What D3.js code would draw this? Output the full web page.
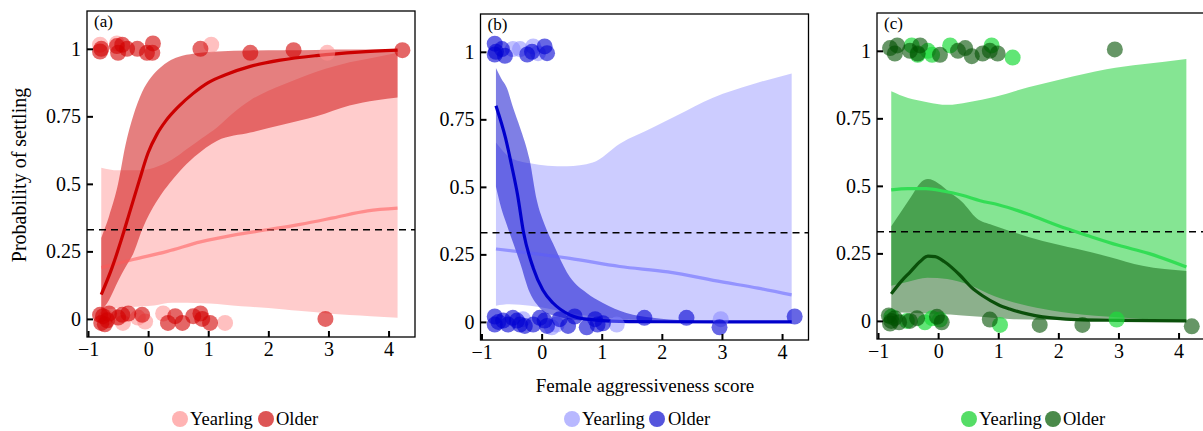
<!DOCTYPE html>
<html><head><meta charset="utf-8">
<script src="https://cdn.jsdelivr.net/npm/d3@7"></script>
<style>
body{margin:0;background:#fff}
svg{display:block}
text{font-family:"Liberation Serif","Times New Roman",serif;fill:#000}
</style>
</head><body>
<svg id="chart" width="1203" height="431"></svg>
<script>
// ---------- labels / ticks ----------
const xTicks = [-1, 0, 1, 2, 3, 4];
const xTickLabels = ["−1", "0", "1", "2", "3", "4"];
const yTicks = [0, 0.25, 0.5, 0.75, 1];
const yTickLabels = ["0", "0.25", "0.5", "0.75", "1"];
const panelLabels = ["(a)", "(b)", "(c)"];
const groups = ["Yearling", "Older"];
const xTitle = "Female aggressiveness score";
const yTitle = "Probability of settling";
const threshold = 0.33;

// ---------- panel (a) ----------
const aYearBand = [[-0.78,.03,.56],[-0.5,.04,.55],[-0.2,.045,.55],[0.1,.05,.56],[0.4,.06,.59],[0.65,.06,.63],[0.9,.058,.67],[1.15,.055,.71],[1.4,.05,.76],[1.7,.045,.81],[2.0,.04,.845],[2.27,.035,.87],[2.5,.03,.89],[2.8,.025,.915],[3.1,.018,.935],[3.35,.014,.95],[3.7,.01,.965],[4.15,.004,.985]];
const aOldBand = [[-0.78,.03,.30],[-0.65,.07,.38],[-0.5,.14,.50],[-0.38,.19,.64],[-0.25,.24,.75],[-0.1,.33,.84],[0.05,.40,.895],[0.2,.455,.93],[0.35,.50,.955],[0.5,.54,.97],[0.77,.60,.983],[1.15,.66,.99],[1.7,.69,.994],[2.25,.72,.995],[2.8,.75,.996],[3.35,.79,.997],[3.8,.81,.997],[4.15,.82,.997]];
const aYearLine = [[-0.78,.19],[-0.25,.22],[0.32,.25],[0.87,.285],[1.42,.31],[1.98,.33],[2.53,.35],[3.08,.374],[3.65,.40],[4.15,.41]];
const aOldLine = [[-0.78,.09],[-0.6,.19],[-0.45,.29],[-0.3,.40],[-0.15,.51],[0,.615],[0.15,.685],[0.3,.735],[0.5,.785],[0.75,.835],[1,.875],[1.3,.905],[1.7,.935],[2.2,.958],[2.8,.975],[3.5,.988],[4.15,.995]];
const aYearPts = [[-0.8,1.015],[-0.52,1.02],[1.05,1.015],[2.98,.985],[-0.7,.005],[-0.42,-.015],[-0.17,.005],[-0.05,-.01],[0.25,.02],[1.28,-.015]];
const aOldPts = [[-0.8,.99],[-0.78,1.0],[-0.52,1.01],[-0.5,.985],[-0.43,1.015],[-0.35,1.0],[-0.18,1.0],[-0.02,.985],[0.08,1.02],[0.07,.985],[0.87,1.0],[1.7,.985],[2.42,.995],[4.23,.995],
  [-0.8,.015],[-0.78,-.015],[-0.75,.01],[-0.72,-.02],[-0.68,-.005],[-0.65,.02],[-0.5,.005],[-0.43,.015],[-0.33,.02],[-0.1,.015],[0.33,-.015],[0.45,.01],[0.57,-.015],[0.75,.01],[0.87,.02],[0.9,0],[1.03,-.015],[2.95,0]];

// ---------- panel (b) ----------
const bYearBand = [[-0.76,.06,.664],[-0.53,.065,.61],[-0.19,.06,.587],[0.1,.05,.578],[0.42,.035,.576],[0.85,.02,.59],[1.3,.012,.66],[1.85,.006,.72],[2.25,.004,.764],[2.85,.002,.83],[3.51,.001,.88],[4.16,0,.92]];
const bOldBand = [[-0.76,.50,.94],[-0.67,.42,.90],[-0.58,.36,.867],[-0.47,.29,.79],[-0.36,.22,.72],[-0.2,.11,.60],[-0.08,.065,.45],[0.05,.035,.36],[0.19,.025,.29],[0.47,.01,.166],[0.75,.004,.107],[1.02,.002,.07],[1.41,.001,.033],[1.85,0,.015],[2.4,0,.005],[3,0,.002],[4.16,0,.001]];
const bYearLine = [[-0.76,.27],[-0.2,.255],[0.47,.235],[1.3,.205],[2.1,.185],[3,.148],[3.6,.125],[4.16,.1]];
const bOldLine = [[-0.76,.80],[-0.6,.68],[-0.5,.58],[-0.4,.47],[-0.3,.33],[-0.14,.2],[0.02,.118],[0.19,.07],[0.47,.026],[0.75,.01],[1.3,.002],[2,.0005],[4.16,0]];
const bYearPts = [[-0.48,1.01],[-0.36,1.01],[-0.14,1.02],[-0.06,.995],[-0.31,.01],[0.17,-.02],[0.25,-.01],[1.25,-.01],[2.98,.01]];
const bOldPts = [[-0.78,1.03],[-0.78,.99],[-0.76,1.0],[-0.66,1.01],[-0.61,.985],[-0.24,.99],[-0.16,1.0],[0.05,1.02],[0.09,.995],
  [-0.78,.02],[-0.78,-.01],[-0.72,0],[-0.64,.005],[-0.56,-.01],[-0.48,.015],[-0.41,.005],[-0.36,-.01],[-0.28,-.015],[-0.14,-.01],[-0.03,.015],[0.05,.005],[0.09,-.015],[0.3,.01],[0.44,-.015],[0.55,.02],[0.75,-.02],[0.89,.01],[0.93,-.01],[1.02,-.005],[1.71,.015],[2.41,.015],[2.96,-.02],[4.21,.02]];

// ---------- panel (c) ----------
const cYearBand = [[-0.78,.13,.85],[-0.5,.145,.825],[-0.18,.16,.81],[0.15,.155,.80],[0.5,.135,.81],[0.95,.09,.83],[1.5,.055,.865],[2.05,.033,.895],[2.8,.016,.932],[3.4,.007,.95],[4.13,0,.97]];
const cOldBand = [[-0.78,.033,.35],[-0.6,.031,.41],[-0.45,.03,.46],[-0.3,.028,.51],[-0.17,.027,.525],[0,.026,.51],[0.2,.024,.475],[0.4,.02,.44],[0.64,.016,.38],[0.9,.012,.355],[1.19,.007,.333],[1.74,.004,.296],[2.3,.002,.267],[2.85,.001,.237],[3.4,0,.204],[4.13,0,.185]];
const cYearLine = [[-0.78,.485],[-0.5,.49],[-0.2,.49],[0.1,.48],[0.4,.465],[0.7,.445],[1.0,.43],[1.5,.395],[2,.352],[2.5,.315],[3,.28],[3.5,.25],[4.13,.2]];
const cOldLine = [[-0.78,.10],[-0.6,.15],[-0.47,.18],[-0.3,.22],[-0.17,.24],[-0.05,.238],[0.1,.22],[0.36,.17],[0.55,.125],[0.74,.093],[1.0,.06],[1.19,.044],[1.5,.025],[1.74,.015],[2.3,.005],[3,.002],[4.13,0]];
const cYearPts = [[-0.44,1.02],[-0.34,.985],[-0.17,1.0],[-0.1,.985],[0.2,1.02],[0.89,1.02],[1.24,.975],[-0.78,.015],[-0.52,0],[-0.22,-.005],[-0.1,.01],[0.03,.005],[1.03,-.015],[2.97,.005]];
const cOldPts = [[-0.8,1.01],[-0.72,.99],[-0.68,1.02],[-0.47,1.0],[-0.34,.99],[-0.3,1.02],[0.03,.985],[0.33,1.0],[0.45,1.01],[0.56,.98],[0.74,.99],[0.86,1.0],[0.99,.99],[2.94,1.005],
  [-0.82,.02],[-0.8,-.01],[-0.78,0],[-0.72,.01],[-0.65,-.005],[-0.47,0],[-0.35,.01],[-0.02,.015],[0.06,-.005],[0.86,.005],[1.69,-.015],[2.4,-.015],[4.22,-.02]];

// ---------- styling (not data) ----------
const panelData = [
  {yb:aYearBand, ob:aOldBand, yl:aYearLine, ol:aOldLine, yp:aYearPts, op:aOldPts,
   ybFill:"rgba(255,0,0,0.2)", obFill:"rgba(204,0,0,0.5)", ylCol:"rgba(255,90,90,0.55)", olCol:"#cc0000",
   ypCol:"rgba(255,140,140,0.55)", opCol:"rgba(210,0,0,0.6)", legY:"#ffb3b3", legO:"#dd5555",
   left:87, top:11, leg:[180,190,266,276]},
  {yb:bYearBand, ob:bOldBand, yl:bYearLine, ol:bOldLine, yp:bYearPts, op:bOldPts,
   ybFill:"rgba(0,0,255,0.2)", obFill:"rgba(0,0,204,0.5)", ylCol:"rgba(90,90,255,0.5)", olCol:"#0000cc",
   ypCol:"rgba(130,130,255,0.5)", opCol:"rgba(0,0,210,0.6)", legY:"#b8b8ff", legO:"#5555dd",
   left:480.5, top:14, leg:[572,582,657,668]},
  {yb:cYearBand, ob:cOldBand, yl:cYearLine, ol:cOldLine, yp:cYearPts, op:cOldPts,
   ybFill:"rgba(0,200,30,0.48)", obFill:"rgba(0,80,0,0.45)", ylCol:"#33dd55", olCol:"#0a500a",
   ypCol:"rgba(30,220,60,0.7)", opCol:"rgba(0,80,0,0.6)", legY:"#55dd66", legO:"#4a8a4a",
   left:877, top:13, leg:[969,979,1053,1063]}
];

const svg = d3.select("#chart");
const W = 328, H = 326;
const x = d3.scaleLinear().domain([-1.017, 4.44]).range([0, W]);
const y = d3.scaleLinear().domain([-0.067, 1.14]).range([H, 0]);

const area = d3.area().x(d => x(d[0])).y0(d => y(d[1])).y1(d => y(d[2])).curve(d3.curveMonotoneX);
const line = d3.line().x(d => x(d[0])).y(d => y(d[1])).curve(d3.curveMonotoneX);

panelData.forEach((p, i) => {
  const g = svg.append("g").attr("transform", `translate(${p.left},${p.top})`);
  const clipId = "clip" + i;
  g.append("clipPath").attr("id", clipId).append("rect").attr("width", W).attr("height", H);
  const inner = g.append("g").attr("clip-path", `url(#${clipId})`);

  inner.append("path").datum(p.yb).attr("d", area).attr("fill", p.ybFill);
  inner.append("path").datum(p.ob).attr("d", area).attr("fill", p.obFill);

  inner.append("line").attr("x1", 0).attr("x2", W)
    .attr("y1", y(threshold)).attr("y2", y(threshold))
    .attr("stroke", "#000").attr("stroke-width", 1.4).attr("stroke-dasharray", "7,5");

  inner.append("path").datum(p.yl).attr("d", line).attr("fill", "none").attr("stroke", p.ylCol).attr("stroke-width", 3.2);
  inner.append("path").datum(p.ol).attr("d", line).attr("fill", "none").attr("stroke", p.olCol).attr("stroke-width", 3.2);

  inner.selectAll("circle.yp").data(p.yp).join("circle").attr("class", "yp")
    .attr("cx", d => x(d[0])).attr("cy", d => y(d[1])).attr("r", 8).attr("fill", p.ypCol);
  inner.selectAll("circle.op").data(p.op).join("circle").attr("class", "op")
    .attr("cx", d => x(d[0])).attr("cy", d => y(d[1])).attr("r", 8).attr("fill", p.opCol);

  // axes (ticks inside)
  const ax = g.append("g").attr("transform", `translate(0,${H})`)
    .call(d3.axisBottom(x).tickValues(xTicks).tickFormat((d, k) => xTickLabels[k]).tickSize(-6).tickPadding(5));
  const ay = g.append("g")
    .call(d3.axisLeft(y).tickValues(yTicks).tickFormat((d, k) => yTickLabels[k]).tickSize(-6).tickPadding(6));
  [ax, ay].forEach(a => {
    a.select(".domain").remove();
    a.selectAll(".tick line").attr("stroke", "#000").attr("stroke-width", 2);
    a.selectAll(".tick text").style("font-family", '"Liberation Serif",serif').style("font-size", "20px").attr("fill", "#000");
  });

  g.append("rect").attr("width", W).attr("height", H).attr("fill", "none").attr("stroke", "#000").attr("stroke-width", 1.3);

  g.append("text").attr("x", 7).attr("y", 16).style("font-size", "17px").text(panelLabels[i]);

  // legend
  const ly = 419;
  svg.append("circle").attr("cx", p.leg[0]).attr("cy", ly).attr("r", 8).attr("fill", p.legY);
  svg.append("text").attr("x", p.leg[1]).attr("y", ly + 6).style("font-size", "18.5px").text(groups[0]);
  svg.append("circle").attr("cx", p.leg[2]).attr("cy", ly).attr("r", 8).attr("fill", p.legO);
  svg.append("text").attr("x", p.leg[3]).attr("y", ly + 6).style("font-size", "18.5px").text(groups[1]);
});

svg.append("text").attr("x", 645).attr("y", 392).attr("text-anchor", "middle").style("font-size", "19px").text(xTitle);
svg.append("text").attr("transform", "translate(26,175) rotate(-90)").attr("text-anchor", "middle").style("font-size", "20px").text(yTitle);
</script>
</body></html>
